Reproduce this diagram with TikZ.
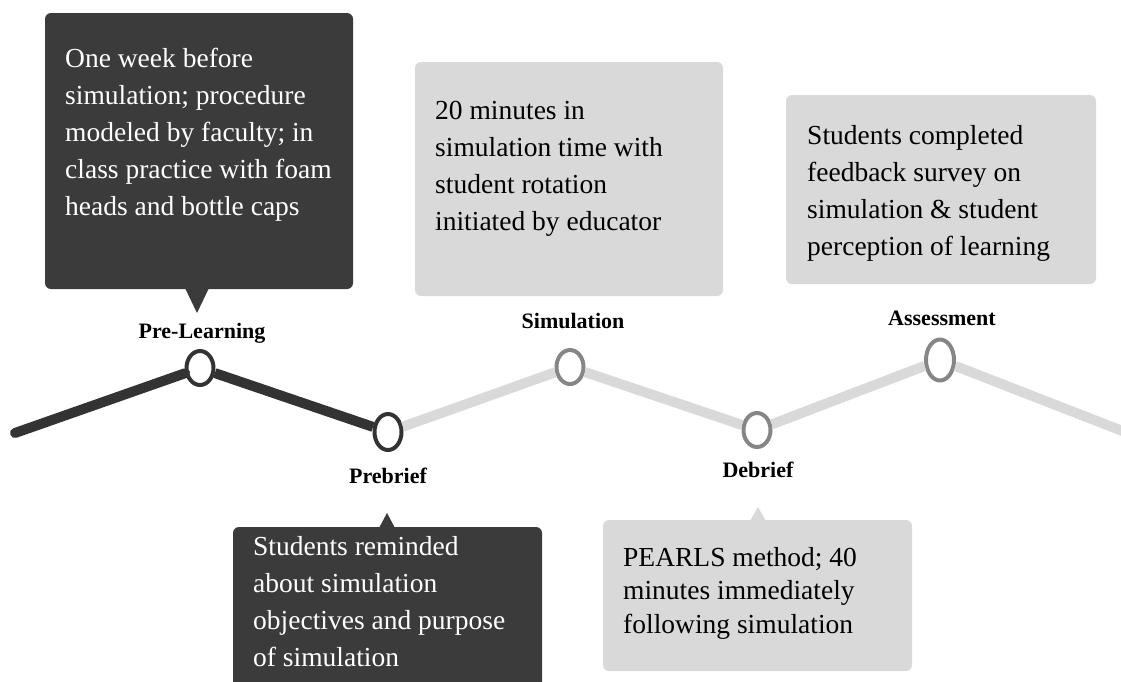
\documentclass[tikz,border=0pt]{standalone}
\usepackage{fontspec}
\setmainfont{Liberation Serif}
\usetikzlibrary{shapes.geometric}
\definecolor{boxdark}{HTML}{3B3B3B}
\definecolor{boxlight}{HTML}{D9D9D9}
\definecolor{ringgray}{HTML}{868686}
\definecolor{trackdark}{HTML}{333333}
\begin{document}
\begin{tikzpicture}[x=1pt,y=-1pt, line join=round, line cap=round,
        darkbox/.style={fill=boxdark, rounded corners=6pt},
        lightbox/.style={fill=boxlight, rounded corners=6pt},
        boxtext/.style={anchor=base west, inner sep=0pt, align=left, font=\fontsize{27.5}{37}\selectfont},
        stage/.style={anchor=base, inner sep=0pt, font=\bfseries\fontsize{22}{26}\selectfont},
        ring/.style={ellipse, draw=#1, line width=4pt, fill=white, minimum width=27pt, minimum height=34pt, inner sep=0pt}]
    \useasboundingbox[fill=white] (0,0) rectangle (1121,681);
    \clip (0,0) rectangle (1121,681);
    % boxes
    \fill[darkbox] (45,13) rectangle (353,289);
    \fill[boxdark] (185,288) -- (197,313) -- (209,288) -- cycle;
    \fill[lightbox] (415,62) rectangle (723,296);
    \fill[lightbox] (786,95) rectangle (1096,284);
    \fill[darkbox] (233,527) rectangle (542,700);
    \fill[boxdark] (379,528) -- (387,513) -- (395,528) -- cycle;
    \fill[lightbox] (603,520) rectangle (912,671);
    \fill[boxlight] (750,521) -- (758,507) -- (766,521) -- cycle;
    % texts (anchored at the baseline of the last line)
    \node[boxtext, text=white] (preTxt) at (65,215) {One week before\\simulation; procedure\\modeled by faculty; in\\class practice with foam\\heads and bottle caps};
    \node[boxtext] (simTxt) at (435,230) {20 minutes in\\simulation time with\\student rotation\\initiated by educator};
    \node[boxtext] (assTxt) at (807,255) {Students completed\\feedback survey on\\simulation \& student\\perception of learning};
    \node[boxtext, text=white] (pbTxt) at (253,666) {Students reminded\\about simulation\\objectives and purpose\\of simulation};
    \node[boxtext, font=\fontsize{27.5}{33.5}\selectfont] (debTxt) at (623,633) {PEARLS method; 40\\minutes immediately\\following simulation};
    % timeline
    \node[ring=trackdark] (pl) at (200,368) {};
    \node[ring=trackdark, minimum height=36pt] (pb) at (388,432) {};
    \node[ring=ringgray] (sim) at (570,367) {};
    \node[ring=ringgray] (deb) at (757,430) {};
    \node[ring=ringgray, minimum width=28pt, minimum height=41pt] (ass) at (940,360) {};
    \coordinate (tStart) at (15,433);
    \coordinate (tEnd) at (1125,432);
    \draw[line width=10pt, boxlight, line cap=butt] (pb) -- (sim) -- (deb) -- (ass) -- (tEnd);
    \draw[line width=10pt, trackdark] (tStart) -- (pl);
    \draw[line width=10pt, trackdark, line cap=butt] (pl) -- (pb);
    \node[stage] (plLbl) at (202,338) {Pre-Learning};
    \node[stage] (pbLbl) at (388,483) {Prebrief};
    \node[stage] (simLbl) at (573,328) {Simulation};
    \node[stage] (debLbl) at (758,477) {Debrief};
    \node[stage] (assLbl) at (942,325) {Assessment};
\end{tikzpicture}
\end{document}
